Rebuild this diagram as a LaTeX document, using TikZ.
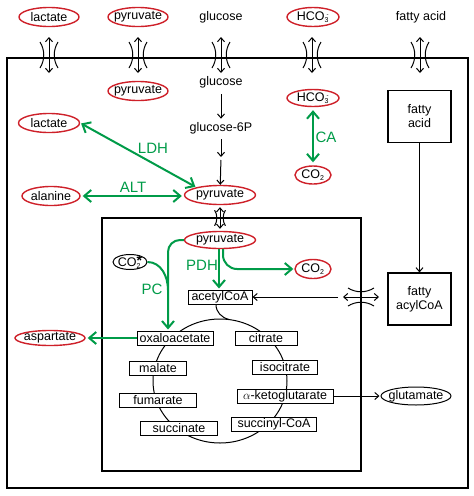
\documentclass[tikz,border=0pt]{standalone}
\usepackage{fontspec}
\setmainfont{Liberation Sans}
\usepackage{tikz}
\usetikzlibrary{arrows.meta,shapes.geometric}
\definecolor{enzgreen}{RGB}{0,155,72}
\definecolor{metred}{RGB}{206,32,41}

\tikzset{chan/.pic={
  \draw[{Straight Barb[length=4pt,width=7pt]}-{Straight Barb[length=4pt,width=7pt]},line width=1pt] (0,18) -- (0,-18);
  \draw[line width=1pt] (-9,13) .. controls (-4,5) and (-4,-5) .. (-9,-13);
  \draw[line width=1pt] (9,13) .. controls (4,5) and (4,-5) .. (9,-13);
}}

\begin{document}
\begin{tikzpicture}[x=1pt,y=1pt,font=\fontsize{12.5}{14}\selectfont]
\tikzstyle{metab} = [ellipse,draw=metred,line width=1.4pt,inner xsep=-12pt,inner ysep=-4pt,minimum width=60pt,minimum height=19pt]
\tikzstyle{ovalk} = [ellipse,draw,line width=1pt,inner xsep=-12pt,inner ysep=-4pt,minimum height=17pt]
\tikzstyle{cycbox} = [rectangle,draw,fill=white,line width=1pt,inner sep=0pt,minimum height=14pt]
\tikzstyle{bigbox} = [rectangle,draw,line width=1.2pt,align=center,minimum width=63pt,minimum height=52pt]
\tikzstyle{enz} = [text=enzgreen,font=\fontsize{15}{17}\selectfont]
\tikzstyle{garrow} = [draw=enzgreen,line width=2pt,>={Straight Barb[length=7pt,width=12pt]}]
\tikzstyle{karrow} = [->,line width=1pt,>={Straight Barb[length=4pt,width=7pt]}]

\pgfdeclarelayer{background}
\pgfsetlayers{background,main}

\useasboundingbox (0,0) rectangle (474,-496);

\draw[line width=2pt] (7,-58) rectangle (468,-488);
\draw[line width=2pt] (102,-218) rectangle (361,-471);

\node[metab] (lacO) at (49,-17) {lactate};
\node[metab] (pyrO) at (138,-17) {pyruvate};
\node (gluO) at (221,-17) {glucose};
\node[metab,minimum width=52pt] (hcoO) at (313,-17) {HCO\textsubscript{\fontsize{7}{8}\selectfont 3}\llap{\textsuperscript{\fontsize{6}{7}\selectfont -}}};
\node (faO) at (421,-17) {fatty acid};

\foreach \x in {49,138,221,312,420}
  \pic at (\x,-55) {chan};
\pic[scale=0.6] at (220,-218) {chan};
\pic[rotate=90] at (361,-297) {chan};

\node[metab] (pyrI) at (138,-91) {pyruvate};
\node (gluI) at (221,-82) {glucose};
\node (g6p) at (221,-128) {glucose-6P};
\coordinate (g6pm) at (221,-157);
\node[metab,minimum width=71pt,minimum height=19pt] (pyrM) at (220,-195) {pyruvate};
\node[metab,minimum width=61pt] (lacI) at (49,-123) {lactate};
\node[metab,minimum width=58pt] (ala) at (51,-196) {alanine};
\node[metab,minimum width=52pt,minimum height=17pt] (hcoI) at (313,-98) {HCO\textsubscript{\fontsize{7}{8}\selectfont 3}\llap{\textsuperscript{\fontsize{6}{7}\selectfont -}}};
\node[metab,minimum width=36pt,minimum height=18pt] (co2a) at (313,-175) {CO\textsubscript{\fontsize{7}{8}\selectfont 2}};
\node[bigbox] (fabox) at (419.5,-116.5) {fatty\\acid};
\node[bigbox] (faoa) at (419.5,-299) {fatty\\acylCoA};

\node[enz] (ldh) at (153,-148) {LDH};
\node[enz] (alt) at (133,-187) {ALT};
\node[enz] (ca) at (326,-137) {CA};
\node[enz] (pdh) at (202,-265) {PDH};
\node[enz] (pc) at (152,-289) {PC};

\node[metab,minimum width=71pt,minimum height=17pt] (pyrC) at (220,-240) {pyruvate};
\node[ovalk,minimum width=34pt,minimum height=15pt] (co2s) at (130,-262) {CO\rlap{\textsubscript{\fontsize{7}{8}\selectfont 2}}\raisebox{1pt}{\bfseries\fontsize{14}{14}\selectfont *}};
\node[metab,minimum width=36pt,minimum height=19pt] (co2b) at (313,-269) {CO\textsubscript{\fontsize{7}{8}\selectfont 2}};
\node[cycbox,minimum width=64pt] (acoa) at (220,-297) {acetylCoA};
\node[metab,minimum width=70pt,minimum height=15pt] (asp) at (50,-338) {aspartate};

\node[cycbox,minimum width=76pt] (oaa) at (175,-338) {oxaloacetate};
\node[cycbox,minimum width=62pt] (cit) at (266,-338) {citrate};
\node[cycbox,minimum width=57pt] (mal) at (158,-368) {malate};
\node[cycbox,minimum width=65pt] (iso) at (285,-367) {isocitrate};
\node[cycbox,minimum width=77pt] (fum) at (158,-400) {fumarate};
\node[cycbox,minimum width=96pt] (akg) at (285,-396) {$\alpha$-ketoglutarate};
\node[cycbox,minimum width=77pt] (suc) at (179,-428) {succinate};
\node[cycbox,minimum width=85pt] (sca) at (274,-424) {succinyl-CoA};
\node[ovalk,minimum width=70pt,minimum height=18pt] (glu) at (416,-396) {glutamate};

\begin{pgfonlayer}{background}
\draw[line width=1pt] (220,-381) ellipse [x radius=67pt,y radius=62pt];
\draw[line width=1pt] ([xshift=-4pt]acoa.south) to[out=-90,in=165] (229,-319.5);
\end{pgfonlayer}

\draw[karrow,shorten <=3pt] (gluI) -- (g6p);
\draw[karrow,shorten <=2pt] (g6p) -- (g6pm);
\draw[karrow,shorten <=3pt] (g6pm) -- (pyrM);

\draw[garrow,<->,shorten <=1pt,shorten >=1pt] (lacI.east) -- (pyrM.162);
\draw[garrow,<->,shorten <=2pt,shorten >=2pt] (ala.east) -- (pyrM.west |- ala.east);
\draw[garrow,<->,shorten <=3pt,shorten >=3pt] (hcoI) -- (co2a);

\draw[garrow,->,shorten >=1pt] ([xshift=-1pt]pyrC.south) -- ([xshift=-1pt]pyrC.south |- acoa.north);
\draw[garrow,->,rounded corners=14pt,shorten >=1pt] ([xshift=3pt]pyrC.south) |- (co2b.west);
\coordinate (pcj) at (168,-290);
\draw[garrow,->,rounded corners=12pt,shorten >=1pt] (pyrC.west) -| ([xshift=-7pt]oaa.north);
\draw[garrow] (co2s.east) to[out=0,in=90] (pcj);
\draw[garrow,->,shorten >=2pt] (oaa) -- (asp);

\draw[karrow] (fabox) -- (faoa);
\coordinate (chl) at (338,-297);
\draw[karrow] (chl) -- (acoa.east);
\draw[karrow,shorten >=1pt] (akg) -- (glu);

\end{tikzpicture}
\end{document}
